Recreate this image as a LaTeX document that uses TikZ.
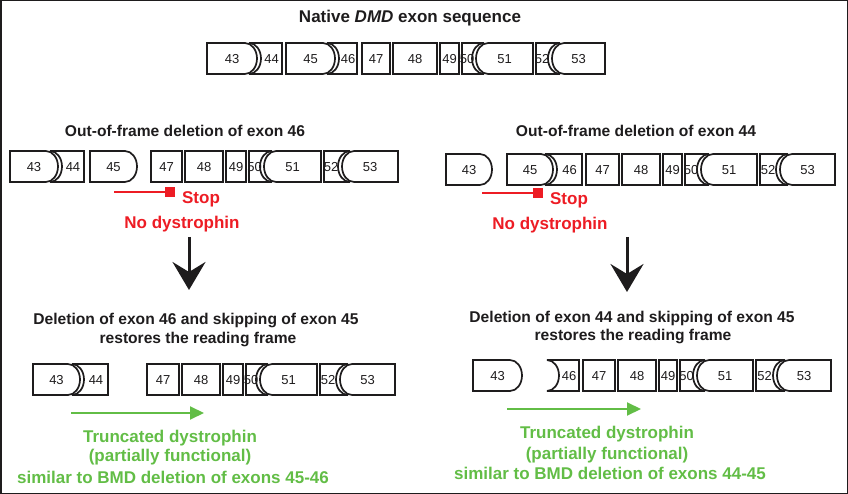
\documentclass[tikz,border=0pt]{standalone}
\usepackage{fontspec}
\setmainfont{Liberation Sans}
\usetikzlibrary{arrows.meta}
\definecolor{myred}{RGB}{237,28,36}
\definecolor{mygreen}{RGB}{98,189,70}
\definecolor{ink}{RGB}{30,28,29}
\def\bw{12}
\def\kb{6.62}
\def\hh{15.5}
\def\kh{8.56}
\def\hgt{31}
% flat left, convex right
\newcommand{\exFV}[5]{%
  \draw[exon] (#2,#4) -- (#3,#4) .. controls ({#3+\kb},#4) and ({#3+\bw},{#4+\hh-\kh}) .. ({#3+\bw},{#4+\hh})
     .. controls ({#3+\bw},{#4+\hh+\kh}) and ({#3+\kb},{#4+\hgt}) .. (#3,{#4+\hgt}) -- (#2,{#4+\hgt}) -- cycle;
  \node[exlab] (#1) at ({(#2+#3+\bw)/2},{#4+\hh}) {#5};}
% concave left, flat right
\newcommand{\exCF}[5]{%
  \draw[exon] (#3,#4) -- (#3,{#4+\hgt}) -- (#2,{#4+\hgt})
     .. controls ({#2+\kb},{#4+\hgt}) and ({#2+\bw},{#4+\hh+\kh}) .. ({#2+\bw},{#4+\hh})
     .. controls ({#2+\bw},{#4+\hh-\kh}) and ({#2+\kb},#4) .. (#2,#4) -- cycle;
  \node[exlab] (#1) at ({(#2+#3+\bw)/2},{#4+\hh}) {#5};}
% flat both sides
\newcommand{\exFF}[5]{%
  \draw[exon] (#2,#4) rectangle (#3,{#4+\hgt});
  \node[exlab] (#1) at ({(#2+#3)/2},{#4+\hh}) {#5};}
% flat left, concave right
\newcommand{\exFC}[5]{%
  \draw[exon] (#2,#4) -- (#3,#4) .. controls ({#3-\kb},#4) and ({#3-\bw},{#4+\hh-\kh}) .. ({#3-\bw},{#4+\hh})
     .. controls ({#3-\bw},{#4+\hh+\kh}) and ({#3-\kb},{#4+\hgt}) .. (#3,{#4+\hgt}) -- (#2,{#4+\hgt}) -- cycle;
  \node[exlab] (#1) at ({(#2+#3-\bw)/2},{#4+\hh}) {#5};}
% convex left, flat right
\newcommand{\exVF}[5]{%
  \draw[exon] (#3,#4) -- (#3,{#4+\hgt}) -- (#2,{#4+\hgt})
     .. controls ({#2-\kb},{#4+\hgt}) and ({#2-\bw},{#4+\hh+\kh}) .. ({#2-\bw},{#4+\hh})
     .. controls ({#2-\bw},{#4+\hh-\kh}) and ({#2-\kb},#4) .. (#2,#4) -- cycle;
  \node[exlab] (#1) at ({(#2+#3-\bw)/2},{#4+\hh}) {#5};}
\begin{document}
\begin{tikzpicture}[x=1pt,y=-1pt,
  exon/.style={draw=ink,line width=1.7pt,line join=miter,miter limit=4},
  exlab/.style={font=\fontsize{13}{13}\selectfont,text=ink,inner sep=0pt,text height=9.3pt,text depth=0pt},
  ttl/.style={font=\fontsize{15.6}{18}\selectfont\bfseries,text=ink,inner sep=0pt,text height=11.2pt,text depth=0pt},
  redtxt/.style={font=\fontsize{17}{20}\selectfont\bfseries,text=myred,inner sep=0pt,text height=12.2pt,text depth=0pt},
  grntxt/.style={font=\fontsize{17}{20}\selectfont\bfseries,text=mygreen,inner sep=0pt,text height=12.2pt,text depth=0pt},
  redline/.style={draw=myred,line width=1.6pt},
  stopsq/.style={fill=myred,draw=none,minimum size=10pt,inner sep=0pt},
  grnarrow/.style={draw=mygreen,line width=2pt,-{Triangle[length=14pt,width=13pt]}},
  bigarrow/.style={draw=ink,line width=3pt,-{Stealth[length=28pt,width=33pt,inset=10pt]}}]
\useasboundingbox (0,0) rectangle (848,494);
\draw[ink,line width=1.5pt] (0.75,0.75) rectangle (847.25,493.25);

% ---- native sequence
\node[ttl,font=\fontsize{17}{20}\selectfont\bfseries,text height=12.2pt] (title) at (410,16) {Native \textit{DMD} exon sequence};
\exFV{t43}{207}{245}{43}{43}
\exCF{t44}{249}{282}{43}{44}
\exFV{t45}{286}{323}{43}{45}
\exCF{t46}{327}{357}{43}{46}
\exFF{t47}{362}{390}{43}{47}
\exFF{t48}{393}{437}{43}{48}
\exFF{t49}{440}{459}{43}{49}
\exFC{t50}{462}{484}{43}{50}
\exVF{t51}{488}{533}{43}{51}
\exFC{t52}{536}{560}{43}{52}
\exVF{t53}{564}{605}{43}{53}

% ---- left: deletion of 46
\node[ttl] (lt1) at (185,131) {Out-of-frame deletion of exon 46};
\exFV{ml43}{10}{46}{151}{43}
\exCF{ml44}{50}{84}{151}{44}
\exFV{ml45}{90}{125}{151}{45}
\exFF{ml47}{151}{182}{151}{47}
\exFF{ml48}{185}{223}{151}{48}
\exFF{ml49}{226}{246}{151}{49}
\exFC{ml50}{249}{272}{151}{50}
\exVF{ml51}{276}{321}{151}{51}
\exFC{ml52}{324}{350}{151}{52}
\exVF{ml53}{354}{398}{151}{53}
\coordinate (lrs) at (114,192);
\node[stopsq] (lsq) at (170,192) {};
\draw[redline] (lrs) -- (lsq.west);
\node[redtxt] (lstop) at (201,197) {Stop};
\node[redtxt] (lnod) at (182,222) {No dystrophin};
\coordinate (las) at (189,237);
\coordinate (lae) at (189,290);
\draw[bigarrow] (las) -- (lae);
\node[ttl] (lt2) at (196,319) {Deletion of exon 46 and skipping of exon 45};
\node[ttl] (lt3) at (198,338) {restores the reading frame};
\exFV{bl43}{33}{68}{364}{43}
\exCF{bl44}{72}{108}{364}{44}
\exFF{bl47}{147}{179}{364}{47}
\exFF{bl48}{182}{220}{364}{48}
\exFF{bl49}{223}{243}{364}{49}
\exFC{bl50}{246}{268}{364}{50}
\exVF{bl51}{272}{317}{364}{51}
\exFC{bl52}{320}{348}{364}{52}
\exVF{bl53}{352}{395}{364}{53}
\coordinate (lgs) at (71,413);
\coordinate (lge) at (204,413);
\draw[grnarrow] (lgs) -- (lge);
\node[grntxt] (lg1) at (170,436) {Truncated dystrophin};
\node[grntxt] (lg2) at (170,455) {(partially functional)};
\node[grntxt] (lg3) at (173,477) {similar to BMD deletion of exons 45-46};

% ---- right: deletion of 44
\node[ttl] (rt1) at (636,131) {Out-of-frame deletion of exon 44};
\exFV{mr43}{446}{480}{154}{43}
\exFV{mr45}{507}{541}{154}{45}
\exCF{mr46}{545}{582}{154}{46}
\exFF{mr47}{586}{619}{154}{47}
\exFF{mr48}{622}{660}{154}{48}
\exFF{mr49}{663}{682}{154}{49}
\exFC{mr50}{685}{709}{154}{50}
\exVF{mr51}{713}{757}{154}{51}
\exFC{mr52}{760}{788}{154}{52}
\exVF{mr53}{792}{835}{154}{53}
\coordinate (rrs) at (482,193);
\node[stopsq] (rsq) at (538,193) {};
\draw[redline] (rrs) -- (rsq.west);
\node[redtxt] (rstop) at (569,198) {Stop};
\node[redtxt] (rnod) at (550,223) {No dystrophin};
\coordinate (ras) at (627,237);
\coordinate (rae) at (627,292);
\draw[bigarrow] (ras) -- (rae);
\node[ttl] (rt2) at (632,317) {Deletion of exon 44 and skipping of exon 45};
\node[ttl] (rt3) at (633,335) {restores the reading frame};
\exFV{br43}{473}{510}{360}{43}
\exCF{br46}{547}{579}{360}{46}
\exFF{br47}{583}{615}{360}{47}
\exFF{br48}{618}{656}{360}{48}
\exFF{br49}{659}{677}{360}{49}
\exFC{br50}{680}{705}{360}{50}
\exVF{br51}{709}{753}{360}{51}
\exFC{br52}{756}{785}{360}{52}
\exVF{br53}{789}{831}{360}{53}
\coordinate (rgs) at (507,409);
\coordinate (rge) at (641,409);
\draw[grnarrow] (rgs) -- (rge);
\node[grntxt] (rg1) at (607,432) {Truncated dystrophin};
\node[grntxt] (rg2) at (607,453) {(partially functional)};
\node[grntxt] (rg3) at (610,473) {similar to BMD deletion of exons 44-45};
\end{tikzpicture}
\end{document}
